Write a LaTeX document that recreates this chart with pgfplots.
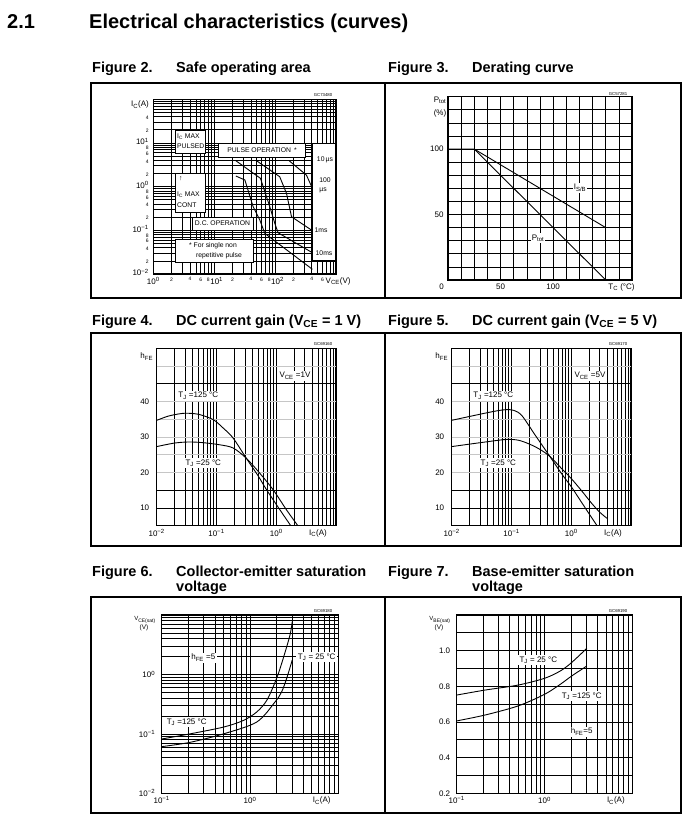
\documentclass[border=0pt]{standalone}
\usepackage{fontspec}
\setmainfont{Liberation Sans}
\usepackage{pgfplots}
\pgfplotsset{compat=1.18}
\newcommand\lf{\fontsize{8}{9.5}\selectfont}
\newcommand\slab{\fontsize{6.8}{8}\selectfont}
\newcommand\sm[1]{\raisebox{-1pt}[\height][\depth]{\fontsize{5}{6}\selectfont #1}}
\newcommand\sx[1]{{\fontsize{5}{6}\selectfont #1}}
\newcommand\ex[1]{10\textsuperscript{#1}}
\newcommand\ey[1]{\raisebox{1.5pt}[\height][\depth]{10\textsuperscript{#1}}}
\newcommand\exr[1]{\hspace*{5pt}10\textsuperscript{#1}}
\newcommand\tf{\fontsize{14.5}{16}\selectfont\bfseries}
\newcommand\cf{\fontsize{4.3}{5}\selectfont}
\pgfplotsset{
  ds/.style={
    scale only axis, anchor=south west,
    axis line style={line width=1.3pt},
    xmajorgrids, xminorgrids, ymajorgrids, yminorgrids,
    major grid style={black,line width=0.7pt},
    minor grid style={black,line width=0.7pt},
    major tick length=0pt, minor tick length=0pt,
    ticklabel style={font=\lf},
    clip=false,
    /pgf/number format/assume math mode=true,
    extra x tick style={grid=none},
  },
  crv/.style={black, line width=0.9pt, no marks},
}
\begin{document}
\begin{tikzpicture}[x=1pt,y=1pt]
\useasboundingbox (0,0) rectangle (686,-827);
\fill[white] (0,0) rectangle (686,-827);
% heading
\node[anchor=base west,font=\fontsize{20}{22}\selectfont\bfseries,inner sep=0pt] at (7,-28) {2.1};
\node[anchor=base west,font=\fontsize{20}{22}\selectfont\bfseries,inner sep=0pt] at (89,-28) {Electrical characteristics (curves)};
% titles
\begin{scope}[every node/.style={anchor=base west,font=\tf,inner sep=0pt}]
\node at (92,-72) {Figure 2.}; \node at (176,-72) {Safe operating area};
\node at (388,-72) {Figure 3.}; \node at (472,-72) {Derating curve};
\node at (92,-325.5) {Figure 4.}; \node at (176,-325.5) {DC current gain (V\textsubscript{CE} = 1 V)};
\node at (388,-325.5) {Figure 5.}; \node at (472,-325.5) {DC current gain (V\textsubscript{CE} = 5 V)};
\node at (92,-576) {Figure 6.}; \node at (176,-576) {Collector-emitter saturation}; \node at (176,-591) {voltage};
\node at (388,-576) {Figure 7.}; \node at (472,-576) {Base-emitter saturation}; \node at (472,-591) {voltage};
\end{scope}
% frames
\draw[line width=1.2pt] (91,-83) rectangle (385,-298) (385,-83) rectangle (681,-298);
\draw[line width=1.2pt] (91,-333) rectangle (385,-546) (385,-333) rectangle (681,-546);
\draw[line width=1.2pt] (91,-597) rectangle (385,-813) (385,-597) rectangle (681,-813);

% ---------------- Figure 2: SOA
\begin{axis}[ds, at={(153.3pt,-274pt)}, width=182.7pt, height=174.7pt,
 xmode=log, ymode=log, xmin=1, xmax=1000, ymin=0.01, ymax=100,
 xtick={1,2,4,6,8,10,20,40,60,80,100,200,400,600},
 xticklabels={\ex{0},\sx2,\sx4,\sx6,\sx8,\exr{1},\sx2,\sx4,\sx6,\sx8,\exr{2},\sx2,\sx4,\sx6},
 minor xtick={3,5,7,9,30,50,70,90,300,500,700,800,900},
 ytick={0.01,0.02,0.04,0.06,0.08,0.1,0.2,0.4,0.6,0.8,1,2,4,6,8,10,20,40},
 yticklabels={\ey{−2},\sm2,\sm4,\sm6,\sm8,\ey{−1},\sm2,\sm4,\sm6,\sm8,\ey{0},\sm2,\sm4,\sm6,\sm8,\ey{1},\sm2,\sm4},
 minor ytick={0.03,0.05,0.07,0.09,0.3,0.5,0.7,0.9,3,5,7,9,30,50,60,70,80,90},
 extra y ticks={75}, extra y tick labels={I\textsubscript{C}(A)}, extra y tick style={grid=none},
 yticklabel style={xshift=-1pt}]
\addplot[crv] coordinates {(22.7,1.75)(31.9,1.42)(43.6,0.347)(56.1,0.172)(67.8,0.085)(410,0.0128)};
\addplot[crv] coordinates {(22.7,3.92)(57.5,1.55)(81.8,0.347)(98.8,0.145)(112,0.088)(410,0.0307)};
\addplot[crv] coordinates {(49.5,3.92)(119,1.69)(154,0.70)(186,0.205)(410,0.098)};
\addplot[crv] coordinates {(170,3.92)(327,1.84)(410,0.914)};
\end{axis}
\begin{scope}[every node/.style={font=\slab,inner sep=0pt}]
\filldraw[fill=white,draw=black,line width=0.7pt] (175,-130) rectangle (205,-153);
\node[anchor=west] at (177,-136.5) {I\textsubscript{C} MAX};
\node[anchor=west] at (177,-146.5) {PULSED};
\filldraw[fill=white,draw=black,line width=0.7pt] (218,-143) rectangle (305,-157);
\node at (262,-150) {PULSE OPERATION \,*};
\filldraw[fill=white,draw=black,line width=0.7pt] (312.7,-143) rectangle (335.3,-260);
\node at (325,-160) {10\,µs};
\node at (325,-180.5) {100};
\node at (323,-190.5) {µs};
\node at (321,-230.5) {1ms};
\node at (324,-253.5) {10ms};
\filldraw[fill=white,draw=black,line width=0.7pt] (175,-173) rectangle (205,-212);
\node at (180.7,-178.5) {↑};
\node[anchor=west] at (177,-195) {I\textsubscript{C} MAX};
\node[anchor=west] at (177,-205) {CONT};
\filldraw[fill=white,draw=black,line width=0.7pt] (192,-217) rectangle (253,-230);
\node at (222.5,-223.5) {D.C. OPERATION};
\filldraw[fill=white,draw=black,line width=0.7pt] (175,-239) rectangle (253,-262);
\node at (213,-246) {* For single non};
\node at (219,-256) {repetitive pulse};
\node[font=\lf,anchor=west] at (325.5,-281) {V\textsubscript{CE}(V)};
\node[font=\cf] at (323,-95) {GC73480};
\end{scope}

% ---------------- Figure 3: derating
\begin{axis}[ds, at={(448pt,-280pt)}, width=184pt, height=183.3pt,
 xmin=0,xmax=175,ymin=0,ymax=140,
 xtick={50,100}, minor xtick={12.5,25,37.5,62.5,75,87.5,112.5,125,137.5,150,162.5},
 ytick={50,100}, minor ytick={10,20,30,40,60,70,80,90,110,120,130},
 extra x ticks={165}, extra x tick labels={T\textsubscript{C} (°C)},
 yticklabel style={xshift=-1pt}]
\addplot[crv] coordinates {(0,100)(25,100)(150,0)};
\addplot[crv] coordinates {(25,100)(150,40)};
\node[font=\lf,anchor=north] at (axis cs:-6,0) {0};
\end{axis}
\begin{scope}[every node/.style={font=\lf,inner sep=1.2pt}]
\node[fill=white] at (580,-188) {I\textsubscript{S/B}};
\node[fill=white] at (538,-238) {P\textsubscript{tot}};
\node at (440,-100) {P\textsubscript{tot}};
\node at (440,-113) {(\%)};
\node[font=\cf] at (618,-94) {GC57281};
\end{scope}

% ---------------- Figure 4
\begin{axis}[ds, at={(156.7pt,-525.7pt)}, width=179.3pt, height=177.4pt,
 xmode=log, xmin=0.01, xmax=10, ymin=5, ymax=55,
 xtick={0.01,0.1,1}, xticklabels={\ex{−2},\ex{−1},\ex{0}},
 minor xtick={0.02,0.03,0.04,0.05,0.06,0.07,0.08,0.09,0.2,0.3,0.4,0.5,0.6,0.7,0.8,0.9,2,3,4,5,6,7,8,9},
 ytick={10,20,30,40}, ymajorgrids=false, minor ytick={10,15,45},
 extra y ticks={20,25,30,35,40,50}, extra y tick labels={},
 extra y tick style={grid=major, major grid style={gray!45,line width=1pt}},
 extra x ticks={5}, extra x tick labels={I\textsubscript{C}(A)},
 yticklabel style={xshift=-4pt}]
\addplot[crv,smooth,tension=0.5] coordinates {(0.01,34.7)(0.015,35.8)(0.02,36.3)(0.03,36.7)(0.05,36.4)(0.088,34.9)(0.13,32.5)(0.19,29.7)(0.316,24.0)(0.5,19.0)(0.69,15.1)(1.15,9.5)(1.75,5)};
\addplot[crv,smooth,tension=0.5] coordinates {(0.01,27.3)(0.02,28.3)(0.035,28.6)(0.06,28.4)(0.114,27.8)(0.19,26.9)(0.316,24.0)(0.53,19.8)(0.89,15.1)(1.48,9.5)(2.3,5)};
\end{axis}
\begin{scope}[every node/.style={font=\lf,inner sep=1.5pt}]
\node[fill=white] at (198.3,-395.7) {T\textsubscript{J} =125 °C};
\node[fill=white] at (203.3,-463.3) {T\textsubscript{J} =25 °C};
\node[fill=white] at (295,-375.7) {V\textsubscript{CE} =1V};
\node at (146.7,-356.7) {h\textsubscript{FE}};
\node[font=\cf] at (323,-344) {GC69160};
\end{scope}

% ---------------- Figure 5
\begin{axis}[ds, at={(451.7pt,-525.7pt)}, width=179.3pt, height=177.4pt,
 xmode=log, xmin=0.01, xmax=10, ymin=5, ymax=55,
 xtick={0.01,0.1,1}, xticklabels={\ex{−2},\ex{−1},\ex{0}},
 minor xtick={0.02,0.03,0.04,0.05,0.06,0.07,0.08,0.09,0.2,0.3,0.4,0.5,0.6,0.7,0.8,0.9,2,3,4,5,6,7,8,9},
 ytick={10,20,30,40}, ymajorgrids=false, minor ytick={10,15,45},
 extra y ticks={20,25,30,35,40,50}, extra y tick labels={},
 extra y tick style={grid=major, major grid style={gray!45,line width=1pt}},
 extra x ticks={5}, extra x tick labels={I\textsubscript{C}(A)},
 yticklabel style={xshift=-4pt}]
\addplot[crv,smooth,tension=0.5] coordinates {(0.01,34.7)(0.02,35.8)(0.05,37.2)(0.08,37.7)(0.11,37.5)(0.15,36.0)(0.25,30.5)(0.44,24.5)(0.7,19.5)(1.0,16.0)(1.5,11.5)(2.0,8.3)(2.7,5)};
\addplot[crv,smooth,tension=0.5] coordinates {(0.01,27.3)(0.03,28.4)(0.08,29.3)(0.13,29.1)(0.2,28.0)(0.3,26.5)(0.44,24.5)(0.7,21.0)(1.0,18.3)(1.5,14.8)(2.2,11.3)(3.0,8.8)(3.96,7.1)};
\end{axis}
\begin{scope}[every node/.style={font=\lf,inner sep=1.5pt}]
\node[fill=white] at (493.3,-395.7) {T\textsubscript{J} =125 °C};
\node[fill=white] at (498.3,-463.3) {T\textsubscript{J} =25 °C};
\node[fill=white] at (590,-375.7) {V\textsubscript{CE} =5V};
\node at (441.7,-356.7) {h\textsubscript{FE}};
\node[font=\cf] at (618,-344) {GC69170};
\end{scope}

% ---------------- Figure 6
\begin{axis}[ds, at={(161.7pt,-793.3pt)}, width=176.6pt, height=178.3pt,
 xmode=log, ymode=log, xmin=0.1, xmax=10, ymin=0.01, ymax=10,
 xtick={0.1,1}, xticklabels={\ex{−1},\ex{0}},
 minor xtick={0.2,0.3,0.4,0.5,0.6,0.7,0.8,0.9,2,3,4,5,6,7,8,9},
 ytick={0.01,0.1,1}, yticklabels={\ex{−2},\ex{−1},\ex{0}},
 minor ytick={0.02,0.03,0.04,0.05,0.06,0.07,0.08,0.09,0.2,0.3,0.4,0.5,0.6,0.7,0.8,0.9,2,3,4,5,6,7,8,9},
 extra x ticks={6.5}, extra x tick labels={I\textsubscript{C}(A)},
 yticklabel style={xshift=-3pt}]
\addplot[crv,smooth,tension=0.5] coordinates {(0.1,0.082)(0.209,0.1)(0.5,0.13)(0.84,0.168)(1.19,0.233)(1.55,0.367)(2.0,0.855)(2.38,1.87)(2.84,4.64)(3.01,7.8)};
\addplot[crv,smooth,tension=0.5] coordinates {(0.1,0.061)(0.209,0.072)(0.5,0.1)(1.19,0.158)(1.92,0.344)(2.28,0.508)(2.6,0.855)(3.01,1.75)};
\end{axis}
\begin{scope}[every node/.style={font=\lf,inner sep=1.5pt}]
\node[fill=white] at (203.3,-657.7) {h\textsubscript{FE} =5};
\node[fill=white] at (316.7,-657.3) {T\textsubscript{J} = 25 °C};
\node[fill=white] at (186.7,-722.3) {T\textsubscript{J} =125 °C};
\node[font=\fontsize{6}{7}\selectfont] at (145,-620) {V\textsubscript{CE(sat)}};
\node[font=\fontsize{6.5}{7}\selectfont] at (144,-628) {(V)};
\node[font=\cf] at (323,-611) {GC69180};
\end{scope}

% ---------------- Figure 7
\begin{axis}[ds, at={(456.7pt,-793.3pt)}, width=175.6pt, height=178.3pt,
 xmode=log, xmin=0.1, xmax=10, ymin=0.2, ymax=1.2,
 xtick={0.1,1}, xticklabels={\ex{−1},\ex{0}},
 minor xtick={0.2,0.3,0.4,0.5,0.6,0.7,0.8,0.9,2,3,4,5,6,7,8,9},
 ytick={0.2,0.4,0.6,0.8,1.0}, yticklabels={0.2,0.4,0.6,0.8,1.0},
 minor ytick={0.3,0.5,0.7,0.9,1.1},
 extra x ticks={6.5}, extra x tick labels={I\textsubscript{C}(A)},
 yticklabel style={xshift=-3pt}]
\addplot[crv,smooth,tension=0.5] coordinates {(0.1,0.751)(0.21,0.779)(0.5,0.807)(1.0,0.845)(1.5,0.885)(2.0,0.93)(3.03,1.013)};
\addplot[crv,smooth,tension=0.5] coordinates {(0.1,0.606)(0.21,0.639)(0.5,0.690)(1.0,0.755)(1.5,0.81)(2.0,0.855)(3.03,0.914)};
\end{axis}
\begin{scope}[every node/.style={font=\lf,inner sep=1.5pt}]
\node[fill=white] at (538.3,-660) {T\textsubscript{J} = 25 °C};
\node[fill=white] at (581.7,-696) {T\textsubscript{J} =125 °C};
\node[fill=white] at (581.7,-731.7) {h\textsubscript{FE}=5};
\node[font=\fontsize{6}{7}\selectfont] at (440,-620) {V\textsubscript{BE(sat)}};
\node[font=\fontsize{6.5}{7}\selectfont] at (439,-628) {(V)};
\node[font=\cf] at (618,-611) {GC69190};
\end{scope}
\end{tikzpicture}
\end{document}
